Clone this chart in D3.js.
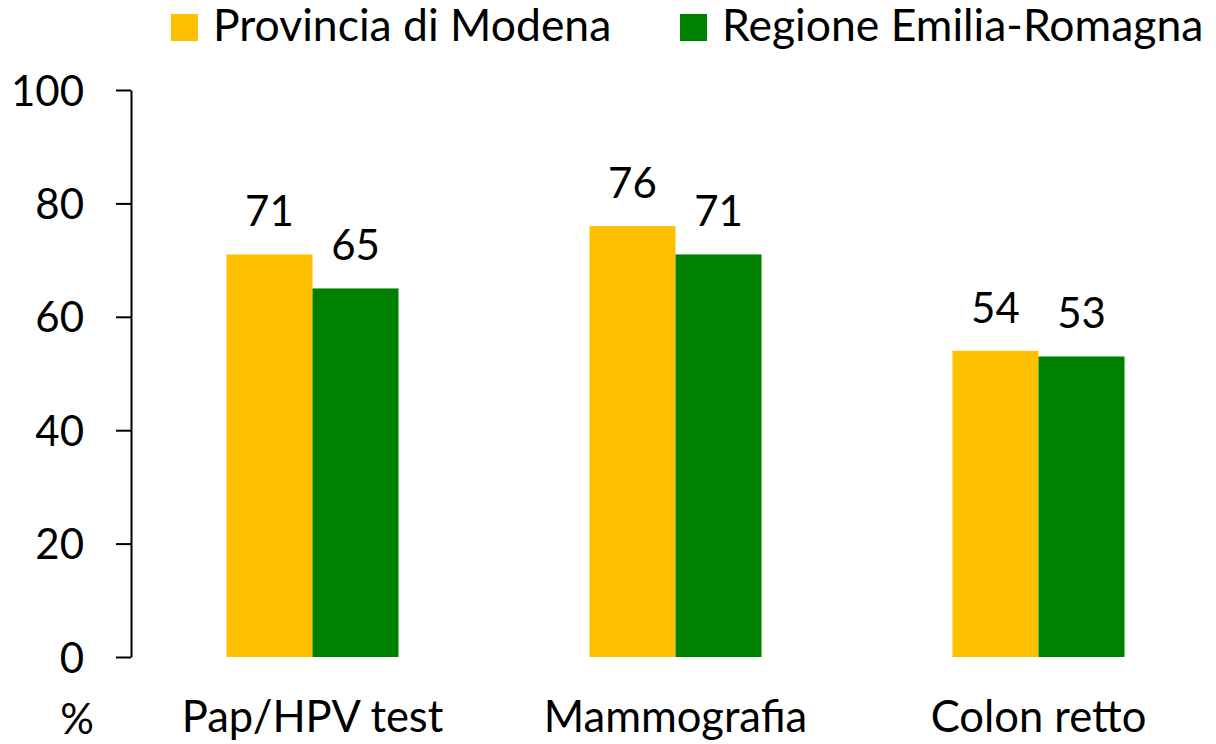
<!DOCTYPE html>
<html>
<head>
<meta charset="utf-8">
<script src="https://cdn.jsdelivr.net/npm/d3@7"></script>
<style>
  body { margin: 0; background: #fff; }
  svg text { font-family: Lato, "Open Sans", sans-serif; fill: #000; }
</style>
</head>
<body>
<div id="chart"></div>
<script>
const categories = ['Pap/HPV test', 'Mammografia', 'Colon retto'];
const seriesNames = ['Provincia di Modena', 'Regione Emilia-Romagna'];
const modena = [71, 76, 54];
const regione = [65, 71, 53];
const yTicks = [0, 20, 40, 60, 80, 100];
const colors = ['#FFC000', '#008000'];

const width = 1216, height = 744;
const margin = { top: 90, right: -4, bottom: 87, left: 131 };

const svg = d3.select('#chart')
    .append('svg')
    .attr('width', width)
    .attr('height', height);

const rows = categories.map((c, i) => ({ cat: c, values: [modena[i], regione[i]] }));

// Scales
const x0 = d3.scaleBand()
    .domain(categories)
    .range([margin.left, width - margin.right])
    .padding(0);

const x1 = d3.scaleBand()
    .domain(seriesNames)
    .range([0, x0.bandwidth()])
    .paddingInner(0)
    .paddingOuter(1.11);

const y = d3.scaleLinear()
    .domain([0, 100])
    .range([height - margin.bottom, margin.top]);

// Y axis
const yAxis = svg.append('g')
    .attr('transform', `translate(${margin.left},0)`)
    .call(d3.axisLeft(y).tickValues(yTicks).tickSize(15).tickPadding(32).tickSizeOuter(0));
yAxis.select('.domain').attr('stroke', '#000').attr('stroke-width', 2);
yAxis.selectAll('.tick line').attr('stroke', '#000').attr('stroke-width', 2);
yAxis.selectAll('.tick text')
    .style('font-size', '42px')
    .attr('dy', '0.36em');

// Bars
const groups = svg.append('g')
    .selectAll('g')
    .data(rows)
    .join('g')
    .attr('transform', d => `translate(${x0(d.cat)},0)`);

groups.selectAll('rect')
    .data(d => d.values.map((v, i) => ({ key: seriesNames[i], value: v, i })))
    .join('rect')
    .attr('x', d => x1(d.key))
    .attr('y', d => y(d.value))
    .attr('width', x1.bandwidth())
    .attr('height', d => y(0) - y(d.value))
    .attr('fill', d => colors[d.i]);

groups.selectAll('text.val')
    .data(d => d.values.map((v, i) => ({ key: seriesNames[i], value: v, i })))
    .join('text')
    .attr('class', 'val')
    .attr('x', d => x1(d.key) + x1.bandwidth() / 2)
    .attr('y', d => y(d.value) - 28)
    .attr('text-anchor', 'middle')
    .style('font-size', '42px')
    .text(d => d.value);

// Category labels
svg.append('g')
    .selectAll('text')
    .data(categories)
    .join('text')
    .attr('x', d => x0(d) + x0.bandwidth() / 2)
    .attr('y', 732)
    .attr('text-anchor', 'middle')
    .style('font-size', '43.5px')
    .text(d => d);

svg.append('text')
    .attr('x', 77)
    .attr('y', 734)
    .attr('text-anchor', 'middle')
    .style('font-size', '42px')
    .text('%');

// Legend
const legendX = [171, 680];
const legend = svg.append('g')
    .selectAll('g')
    .data(seriesNames)
    .join('g')
    .attr('transform', (d, i) => `translate(${legendX[i]},0)`);

legend.append('rect')
    .attr('x', 0)
    .attr('y', 14)
    .attr('width', 27)
    .attr('height', 27)
    .attr('fill', (d, i) => colors[i]);

legend.append('text')
    .attr('x', 42)
    .attr('y', 41)
    .style('font-size', '44.5px')
    .text(d => d);
</script>
</body>
</html>
